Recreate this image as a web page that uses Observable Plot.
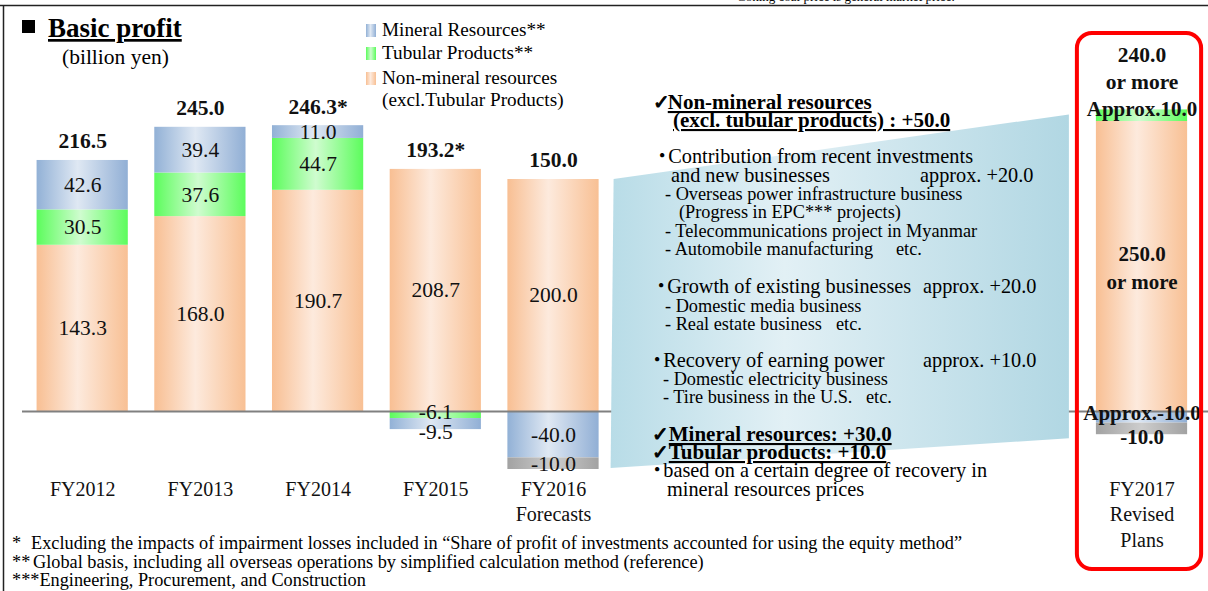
<!DOCTYPE html>
<html>
<head>
<meta charset="utf-8">
<script src="https://cdn.jsdelivr.net/npm/d3@7"></script>
<script src="https://cdn.jsdelivr.net/npm/@observablehq/plot@0.6"></script>
<style>
html,body{margin:0;padding:0;background:#fff;}
#wrap{position:relative;width:1208px;height:591px;overflow:hidden;background:#fff;}
#wrap svg{position:absolute;left:0;top:0;}
#over text{font-family:"Liberation Serif",serif;fill:#000;white-space:pre;}
</style>
</head>
<body>
<div id="wrap"></div>
<script>
// ---------------- data ----------------
const years = ["FY2012", "FY2013", "FY2014", "FY2015", "FY2016", "FY2017"];
const yearLabels = ["FY2012", "FY2013", "FY2014", "FY2015", "FY2016\nForecasts", "FY2017\nRevised\nPlans"];
const nonMineral = [143.3, 168.0, 190.7, 208.7, 200.0, 250.0];
const tubular    = [30.5, 37.6, 44.7, -6.1, 0, 10.0];
const mineral    = [42.6, 39.4, 11.0, -9.5, -40.0, -10.0];
const other      = [0, 0, 0, 0, -10.0, -10.0];
const totalLabels = ["216.5", "245.0", "246.3*", "193.2*", "150.0", "240.0\nor more"];
const fy2017Labels = {nonMineral: "250.0\nor more", tubular: "Approx.10.0", mineral: "Approx.-10.0", other: "-10.0"};
const seriesNames = ["nonMineral", "tubular", "mineral", "other"];
const legendLabels = [["mineral", "Mineral Resources**"], ["tubular", "Tubular Products**"], ["nonMineral", "Non-mineral resources"]];

// ---------------- layout ----------------
const W = 1208, H = 591;
const xDomain = ["FY2012", "FY2013", "FY2014", "FY2015", "FY2016", "gap1", "gap2", "gap3", "gap4", "FY2017"];
const xRange = [10.1, 1213.6], xPad = 0.225;
const yDomain = [0, 300], yRange = [411, 63];
const xs = d3.scaleBand(xDomain, xRange).padding(xPad);
const ys = d3.scaleLinear(yDomain, yRange);

// stacked rows
const arrays = {nonMineral, tubular, mineral, other};
const rows = [];
const posTop = [], negBot = [];
years.forEach((yr, i) => {
  let pos = 0, neg = 0;
  for (const s of seriesNames) {
    const v = arrays[s][i];
    if (!v) continue;
    let y1, y2;
    if (v > 0) { y1 = pos; pos += v; y2 = pos; } else { y1 = neg; neg += v; y2 = neg; }
    rows.push({year: yr, series: s, value: v, y1, y2, mid: (y1 + y2) / 2});
  }
  posTop.push(pos); negBot.push(neg);
});

function labelDy(r) {
  if (r.year === "FY2017") return {nonMineral: 0, tubular: -9, mineral: -6, other: 6}[r.series];
  if (r.year === "FY2015" && r.series === "mineral") return 8;
  if (r.year === "FY2015" && r.series === "tubular") return -3;
  return 0;
}
const labels = rows.map(r => ({
  ...r,
  text: r.year === "FY2017" ? fy2017Labels[r.series] : r.value.toFixed(1),
  bold: r.year === "FY2017",
  ly: ys.invert(ys(r.mid) + labelDy(r))
}));
const totals = years.map((yr, i) => ({year: yr, top: posTop[i], label: totalLabels[i]}));

const serif = "Liberation Serif";

const chart = Plot.plot({
  width: W, height: H,
  marginLeft: 22, marginRight: 0, marginTop: 0, marginBottom: 113,
  x: {type: "band", domain: xDomain, range: xRange, padding: xPad, round: false, axis: null},
  y: {domain: yDomain, range: yRange, axis: null},
  color: {type: "ordinal", domain: seriesNames, range: seriesNames.map(s => `url(#grad-${s})`)},
  style: {fontFamily: serif, background: "transparent", color: "#000"},
  marks: [
    Plot.barY(rows, {x: "year", y1: "y1", y2: "y2", fill: "series"}),
    Plot.ruleY([0], {stroke: "#808080", strokeWidth: 2}),
    Plot.text(labels.filter(d => !d.bold), {x: "year", y: "ly", text: "text", fontSize: 21.5, fontFamily: serif, fill: "#111"}),
    Plot.text(labels.filter(d => d.bold), {x: "year", y: "ly", text: "text", fontSize: 21, fontWeight: "bold", fontFamily: serif, lineHeight: 1.33, fill: "#111"}),
    Plot.text(totals.slice(0, 5), {x: "year", y: "top", text: "label", dy: -19, fontSize: 21.5, fontWeight: "bold", fontFamily: serif, fill: "#111"}),
    Plot.text(totals.slice(5), {x: "year", y: "top", text: "label", dy: -43, fontSize: 21.5, fontWeight: "bold", fontFamily: serif, lineHeight: 1.28, fill: "#111"}),
    Plot.text(years, {x: d => d, text: (d, i) => yearLabels[i], frameAnchor: "bottom", lineAnchor: "top", fontSize: 20, lineHeight: 1.28, fontFamily: serif, fill: "#111", dy: -1})
  ]
});
document.getElementById("wrap").appendChild(chart);

// ---------------- overlay ----------------
const bw = xs.bandwidth();
const pL = xs("FY2016") + bw + 12, pR = xs("FY2017") - 27;
const poly = [[pL + 3, ys(nonMineral[4])], [pR, ys(posTop[5]) + 5], [pR, ys(negBot[5]) + 4], [pL, ys(negBot[4]) - 1]];
const boxX = xs("FY2017") - 19, boxW = bw + 33;

function grad(id, stops) {
  return `<linearGradient id="${id}" x1="0" y1="0" x2="1" y2="0">` +
    stops.map(([o, c]) => `<stop offset="${o}" stop-color="${c}"/>`).join("") + `</linearGradient>`;
}
const defs = `<defs>
${grad("grad-nonMineral", [[0, "#f8bf93"], [0.45, "#fdeadd"], [1, "#f8c094"]])}
${grad("grad-tubular", [[0, "#5cfc5c"], [0.48, "#cffccf"], [1, "#5cfc5c"]])}
${grad("grad-mineral", [[0, "#92b1d6"], [0.45, "#dfe8f3"], [1, "#91afd5"]])}
${grad("grad-other", [[0, "#a2a2a2"], [0.5, "#cdcdcd"], [1, "#a2a2a2"]])}
${grad("grad-panel", [[0, "#b8dce7"], [0.38, "#e2f0f5"], [1, "#b1d7e3"]])}
</defs>`;

function ann(a) {
  let inner = "";
  if (a.check) inner += `<tspan font-family="DejaVu Sans" font-size="20" font-weight="bold" stroke="#000" stroke-width="0.9">✓</tspan>`;
  if (a.dot) inner += `<tspan font-family="Noto Sans CJK JP" font-weight="normal">・</tspan>`;
  const dx = (a.check || a.dot) ? ` dx="${a.gap || 0}"` : "";
  inner += `<tspan${dx}${a.ul ? ' text-decoration="underline"' : ""}>${a.s}</tspan>`;
  return `<text x="${a.x}" y="${a.y}" font-size="${a.size}"${a.bold ? ' font-weight="bold"' : ""}>${inner}</text>`;
}
const M = 20.3, S = 18.3, B = 21;
const notes = [
  {x: 653, y: 109, size: B, bold: true, check: true, ul: true, gap: -2, s: "Non-mineral resources"},
  {x: 673, y: 127, size: B, bold: true, ul: true, s: "(excl. tubular products) : +50.0"},
  {x: 652, y: 163, size: M, dot: true, gap: -4, s: "Contribution from recent investments"},
  {x: 671, y: 182, size: M, s: "and new businesses"},
  {x: 920, y: 182, size: M, s: "approx. +20.0"},
  {x: 665, y: 200, size: S, s: "- Overseas power infrastructure business"},
  {x: 679, y: 218, size: S, s: "(Progress in EPC*** projects)"},
  {x: 665, y: 237, size: S, s: "- Telecommunications project in Myanmar"},
  {x: 665, y: 255, size: S, s: "- Automobile manufacturing"},
  {x: 896, y: 255, size: S, s: "etc."},
  {x: 651, y: 293, size: M, dot: true, gap: -4, s: "Growth of existing businesses"},
  {x: 923, y: 293, size: M, s: "approx. +20.0"},
  {x: 665, y: 312, size: S, s: "- Domestic media business"},
  {x: 665, y: 330, size: S, s: "- Real estate business"},
  {x: 836, y: 330, size: S, s: "etc."},
  {x: 647, y: 367, size: M, dot: true, gap: -4, s: "Recovery of earning power"},
  {x: 923, y: 367, size: M, s: "approx. +10.0"},
  {x: 663, y: 385, size: S, s: "- Domestic electricity business"},
  {x: 663, y: 403, size: S, s: "- Tire business in the U.S."},
  {x: 866, y: 403, size: S, s: "etc."},
  {x: 652, y: 441, size: B, bold: true, check: true, ul: true, gap: 0, s: "Mineral resources: +30.0"},
  {x: 652, y: 459, size: B, bold: true, check: true, ul: true, gap: 0, s: "Tubular products: +10.0"},
  {x: 647, y: 477, size: M, dot: true, gap: -4, s: "based on a certain degree of recovery in"},
  {x: 667, y: 496, size: M, s: "mineral resources prices"}
];

const legendY = [30, 53, 78];
let legendSvg = "";
legendLabels.forEach(([s, label], i) => {
  legendSvg += `<rect x="366" y="${legendY[i] - 6}" width="10" height="13" fill="url(#grad-${s})"/>`;
  legendSvg += `<text x="382" y="${legendY[i] + 6}" font-size="19.2">${label}</text>`;
});
legendSvg += `<text x="382" y="106" font-size="19.2">(excl.Tubular Products)</text>`;

const FN = 18.3;
const over = `<svg id="over" width="${W}" height="${H}" xmlns="http://www.w3.org/2000/svg">
${defs}
<line x1="0" y1="5.5" x2="${W}" y2="5.5" stroke="#222" stroke-width="1.5"/>
<line x1="3.5" y1="5" x2="3.5" y2="${H}" stroke="#222" stroke-width="1.5"/>
<text x="737" y="1" font-size="13">Coking coal price is general market price.</text>
<polygon points="${poly.map(p => p.join(",")).join(" ")}" fill="url(#grad-panel)"/>
<rect x="${boxX}" y="33" width="${boxW}" height="536" rx="15" ry="15" fill="none" stroke="#ff0000" stroke-width="4"/>
<rect x="22" y="20" width="13" height="13" fill="#000"/>
<text x="48" y="37" font-size="27" font-weight="bold" text-decoration="underline">Basic profit</text>
<text x="62" y="64" font-size="21.5">(billion yen)</text>
${legendSvg}
${notes.map(ann).join("\n")}
<text x="12" y="549" font-size="${FN}">*</text>
<text x="31" y="549" font-size="${FN}">Excluding the impacts of impairment losses included in “Share of profit of investments accounted for using the equity method”</text>
<text x="12" y="567.5" font-size="${FN}">**</text>
<text x="33" y="567.5" font-size="${FN}">Global basis, including all overseas operations by simplified calculation method (reference)</text>
<text x="12" y="586" font-size="${FN}">***Engineering, Procurement, and Construction</text>
</svg>`;
document.getElementById("wrap").insertAdjacentHTML("beforeend", over);
</script>
</body>
</html>
